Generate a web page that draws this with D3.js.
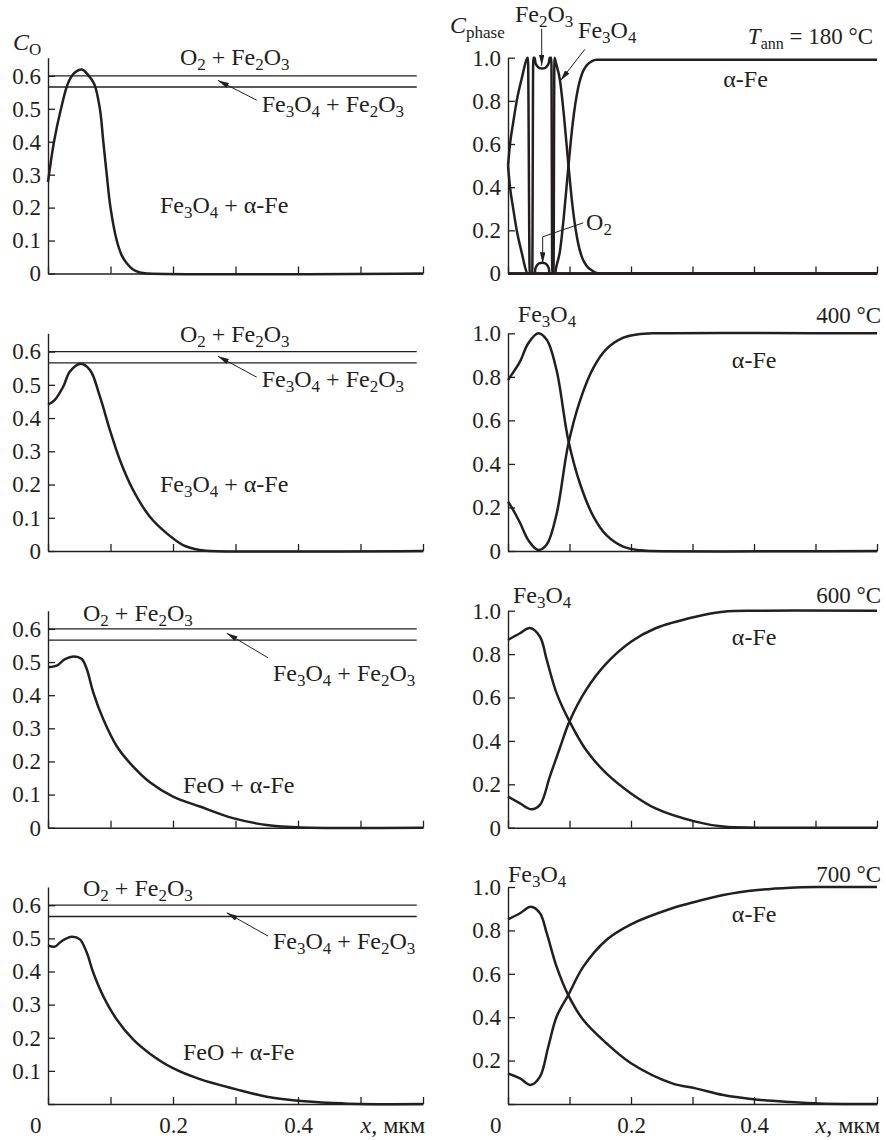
<!DOCTYPE html>
<html>
<head>
<meta charset="utf-8">
<script src="https://cdn.jsdelivr.net/npm/d3@7"></script>
<style>
  body { margin: 0; background: #fff; }
</style>
</head>
<body>
<svg id="chart" width="886" height="1140"></svg>
<script>
// ---- data (x in µm) ----
const xTicks = [0, 0.1, 0.2, 0.3, 0.4, 0.5, 0.6];
const xTickLabels = ["0", "", "0.2", "", "0.4", "", ""];
const coTicks = [0, 0.1, 0.2, 0.3, 0.4, 0.5, 0.6];
const phaseTicks = [0, 0.2, 0.4, 0.6, 0.8, 1.0];
const phaseBounds = [0.6, 0.566];          // O2+Fe2O3 / Fe3O4+Fe2O3 boundaries
const tempLabels = ["*T*_{ann} = 180 °C", "400 °C", "600 °C", "700 °C"];

// oxygen concentration C_O(x)
const co180 = [[0,0.278],[0.0096,0.4],[0.0208,0.5],[0.0325,0.58],[0.043,0.61],[0.054,0.619],[0.064,0.603],[0.074,0.575],[0.083,0.5],[0.0885,0.4],[0.094,0.3],[0.1,0.2],[0.11,0.1],[0.118,0.055],[0.126,0.031],[0.136,0.012],[0.147,0.003],[0.16,0],[0.6,0]];
const co400 = [[0,0.44],[0.011,0.455],[0.0245,0.495],[0.035,0.54],[0.051,0.563],[0.067,0.545],[0.083,0.465],[0.099,0.364],[0.115,0.274],[0.136,0.184],[0.163,0.103],[0.19,0.053],[0.216,0.018],[0.243,0.003],[0.26,0],[0.6,0]];
const co600 = [[0,0.484],[0.0139,0.489],[0.0272,0.509],[0.041,0.517],[0.054,0.509],[0.062,0.479],[0.0725,0.408],[0.0885,0.327],[0.11,0.246],[0.136,0.185],[0.163,0.137],[0.2,0.094],[0.243,0.064],[0.296,0.029],[0.35,0.008],[0.39,0.002],[0.42,0],[0.6,0]];
const co700 = [[0,0.479],[0.011,0.475],[0.022,0.492],[0.038,0.505],[0.051,0.497],[0.062,0.457],[0.0725,0.396],[0.0885,0.325],[0.11,0.255],[0.1365,0.194],[0.163,0.152],[0.2,0.108],[0.243,0.075],[0.3,0.045],[0.35,0.022],[0.4,0.01],[0.457,0.003],[0.5,0],[0.6,0]];

// phase fractions C_phase(x)
const fe3o4_180 = [[0,0.5],[0.0033,0.6],[0.0085,0.7],[0.0142,0.8],[0.022,0.9],[0.0325,1.0],[0.0353,0],[0.074,0],[0.0755,1.0],[0.0785,0.97],[0.0846,0.894],[0.091,0.73],[0.098,0.51],[0.105,0.31],[0.1144,0.135],[0.121,0.07],[0.128,0.035],[0.136,0.015],[0.144,0.003],[0.155,0],[0.6,0]];
const afe_180 = [[0,0.5],[0.0033,0.4],[0.0085,0.3],[0.0142,0.2],[0.022,0.1],[0.0325,0],[0.0764,0],[0.0785,0.03],[0.0846,0.106],[0.091,0.27],[0.098,0.49],[0.105,0.69],[0.1144,0.865],[0.121,0.93],[0.128,0.965],[0.136,0.983],[0.144,0.99],[0.6,0.99]];
const fe2o3_180 = [[0,0],[0.0395,0],[0.041,1.0],[0.0433,1.0],[0.0445,0.978],[0.047,0.963],[0.0505,0.953],[0.0555,0.95],[0.0605,0.953],[0.064,0.963],[0.0665,0.978],[0.0677,1.0],[0.0705,1.0],[0.072,0],[0.6,0]];
const o2_180 = [[0,0],[0.0433,0],[0.0445,0.022],[0.047,0.037],[0.0505,0.047],[0.0555,0.05],[0.0605,0.047],[0.064,0.037],[0.0665,0.022],[0.0677,0],[0.6,0]];
const fe3o4_400 = [[0,0.786],[0.006,0.81],[0.0195,0.87],[0.033,0.954],[0.049,1.0],[0.063,0.97],[0.079,0.83],[0.098,0.51],[0.117,0.31],[0.139,0.158],[0.16,0.073],[0.1875,0.02],[0.215,0.003],[0.235,0],[0.6,0]];
const afe_400 = [[0,0.226],[0.006,0.2],[0.0195,0.13],[0.033,0.05],[0.049,0.005],[0.063,0.03],[0.079,0.17],[0.098,0.49],[0.117,0.69],[0.139,0.842],[0.16,0.927],[0.1875,0.98],[0.215,0.997],[0.235,1],[0.6,1]];
const fe3o4_600 = [[0,0.865],[0.0195,0.896],[0.0358,0.92],[0.052,0.88],[0.063,0.773],[0.079,0.62],[0.1,0.49],[0.127,0.358],[0.16,0.25],[0.2,0.158],[0.24,0.089],[0.305,0.028],[0.35,0.005],[0.406,0],[0.6,0]];
const afe_600 = [[0,0.143],[0.0195,0.112],[0.038,0.085],[0.052,0.105],[0.068,0.235],[0.085,0.373],[0.1,0.49],[0.127,0.635],[0.16,0.757],[0.2,0.857],[0.24,0.919],[0.305,0.972],[0.35,0.995],[0.406,1],[0.6,1]];
const fe3o4_700 = [[0,0.851],[0.0195,0.879],[0.037,0.909],[0.052,0.879],[0.063,0.787],[0.079,0.633],[0.098,0.502],[0.1225,0.387],[0.16,0.28],[0.2,0.188],[0.267,0.095],[0.305,0.072],[0.35,0.041],[0.406,0.02],[0.459,0.009],[0.507,0.002],[0.55,0],[0.6,0]];
const afe_700 = [[0,0.141],[0.0195,0.118],[0.037,0.088],[0.052,0.126],[0.0655,0.264],[0.079,0.402],[0.098,0.502],[0.1225,0.633],[0.16,0.756],[0.2,0.828],[0.267,0.902],[0.305,0.932],[0.35,0.963],[0.406,0.986],[0.459,0.997],[0.507,1],[0.6,1]];

const coCurves = [co180, co400, co600, co700];
const phaseCurves = [[fe3o4_180, afe_180, fe2o3_180, o2_180], [fe3o4_400, afe_400], [fe3o4_600, afe_600], [fe3o4_700, afe_700]];

// annotations, in data units of each panel
const leftNotes = [
  { texts: [["O_2 + Fe_2O_3", 0.211, 0.632], ["Fe_3O_4 + Fe_2O_3", 0.342, 0.489], ["Fe_3O_4 + α-Fe", 0.179, 0.183]], arrows: [[[0.334,0.526],[0.272,0.586]]] },
  { texts: [["O_2 + Fe_2O_3", 0.211, 0.630], ["Fe_3O_4 + Fe_2O_3", 0.342, 0.494], ["Fe_3O_4 + α-Fe", 0.179, 0.179]], arrows: [[[0.334,0.523],[0.272,0.586]]] },
  { texts: [["O_2 + Fe_2O_3", 0.056, 0.623], ["Fe_3O_4 + Fe_2O_3", 0.36, 0.442], ["FeO + α-Fe", 0.216, 0.105]], arrows: [[[0.352,0.513],[0.286,0.587]]] },
  { texts: [["O_2 + Fe_2O_3", 0.056, 0.627], ["Fe_3O_4 + Fe_2O_3", 0.36, 0.467], ["FeO + α-Fe", 0.216, 0.133]], arrows: [[[0.352,0.507],[0.286,0.577]]] }
];
const rightNotes = [
  { texts: [["Fe_2O_3", 0.0114, 1.166], ["Fe_3O_4", 0.114, 1.092], ["α-Fe", 0.35, 0.866], ["O_2", 0.127, 0.201]],
    arrows: [[[0.0548,1.134],[0.0548,0.963]], [[0.125,1.039],[0.0854,0.894]], [[0.1224,0.235],[0.0564,0.17],[0.0564,0.047]]] },
  { texts: [["Fe_3O_4", 0.016, 1.052], ["α-Fe", 0.364, 0.84]], arrows: [] },
  { texts: [["Fe_3O_4", 0.008, 1.035], ["α-Fe", 0.364, 0.842]], arrows: [] },
  { texts: [["Fe_3O_4", 0.0, 1.023], ["α-Fe", 0.364, 0.839]], arrows: [] }
];
const tempPos = [[0.5935, 1.065], [0.6065, 1.047], [0.6065, 1.035], [0.6065, 1.023]];

// ---- layout ----
const rowsY = [[273.5, 57.7], [551, 333.3], [827.7, 610.7], [1104, 887]];
const ink = "#231f20";
const serif = "'Liberation Serif', 'DejaVu Serif', 'Noto Serif', serif";
const tickFs = 23;

const svg = d3.select("#chart").style("font-family", serif);
const defs = svg.append("defs");
defs.append("marker")
  .attr("id", "arr").attr("viewBox", "0 0 10 5").attr("refX", 10).attr("refY", 2.5)
  .attr("markerWidth", 11).attr("markerHeight", 5.5).attr("markerUnits", "userSpaceOnUse")
  .attr("orient", "auto")
  .append("path").attr("d", "M0,0L10,2.5L0,5Z").attr("fill", ink);

const xLeft = d3.scaleLinear().domain([0, 0.6]).range([48, 423]);
const xRight = d3.scaleLinear().domain([0, 0.6]).range([508, 877]);

// text with *italic* and _s / _{sub} subscripts
function richText(g, str, x, y, anchor, size) {
  const fs = size || 24, subFs = Math.round(fs * 0.71), subDy = 5;
  const t = g.append("text").attr("x", x).attr("y", y)
    .attr("text-anchor", anchor || "start")
    .style("font-family", serif).style("font-size", fs + "px").style("fill", ink).style("white-space", "pre");
  const re = /\*([^*]+)\*|_\{([^}]+)\}|_(.)|([^*_]+)/g;
  let m, sub = false;
  while ((m = re.exec(str))) {
    if (m[2] || m[3]) {
      t.append("tspan").style("font-size", subFs + "px").attr("dy", sub ? 0 : subDy).text(m[2] || m[3]);
      sub = true;
    } else {
      const sp = t.append("tspan").attr("dy", sub ? -subDy : 0).text(m[1] || m[4]);
      if (m[1]) sp.style("font-style", "italic");
      sub = false;
    }
  }
  return t;
}

const smooth = d3.curveCatmullRom.alpha(0.5);
const line = (x, y, curve) => d3.line().x(d => x(d[0])).y(d => y(d[1])).curve(curve);
const arrowLine = (x, y) => d3.line().x(d => x(d[0])).y(d => y(d[1]));

function drawAxes(g, x, y, ticks, row) {
  const last = row === 3;
  const xa = g.append("g").attr("transform", `translate(0,${y.range()[0]})`)
    .call(d3.axisBottom(x).tickValues(xTicks).tickSizeInner(-7).tickSizeOuter(0).tickPadding(13)
      .tickFormat((d, i) => last ? xTickLabels[i] : ""));
  // bottom row: the zero is written once, under the corner
  const ya = g.append("g").attr("transform", `translate(${x.range()[0]},0)`)
    .call(d3.axisLeft(y).tickValues(ticks).tickSizeInner(-7).tickSizeOuter(0).tickPadding(7)
      .tickFormat(d => d === 0 ? (last ? "" : "0") : d.toFixed(1)));
  [xa, ya].forEach(a => {
    a.attr("font-family", null).attr("font-size", null);
    a.select(".domain").attr("stroke", ink).attr("stroke-width", 1.4);
    a.selectAll(".tick line").attr("stroke", ink).attr("stroke-width", 1.3);
    a.selectAll(".tick text").attr("fill", ink)
      .style("font-family", serif).style("font-size", tickFs + "px");
  });
  xa.selectAll(".tick text").filter(d => d === 0)
    .attr("text-anchor", "end").attr("x", -7);
  if (last) richText(g, "*x*, мкм", x(0.5), y.range()[0] + 29);
}

function drawNotes(g, x, y, notes) {
  notes.texts.forEach(t => richText(g, t[0], x(t[1]), y(t[2])));
  notes.arrows.forEach(a => {
    g.append("path").attr("d", arrowLine(x, y)(a)).attr("fill", "none")
      .attr("stroke", ink).attr("stroke-width", 1).attr("marker-end", "url(#arr)");
  });
}

rowsY.forEach((ry, row) => {
  // left: oxygen concentration
  const yL = d3.scaleLinear().domain([0, 0.655]).range(ry);
  const gL = svg.append("g");
  drawAxes(gL, xLeft, yL, coTicks, row);
  gL.selectAll(".bound").data(phaseBounds).enter().append("line")
    .attr("x1", xLeft(0)).attr("x2", xLeft(0.59))
    .attr("y1", d => yL(d)).attr("y2", d => yL(d))
    .attr("stroke", ink).attr("stroke-width", 1.3);
  gL.append("path").attr("d", line(xLeft, yL, smooth)(coCurves[row]))
    .attr("fill", "none").attr("stroke", ink).attr("stroke-width", 2.5);
  drawNotes(gL, xLeft, yL, leftNotes[row]);

  // right: phase fractions (sharp phase jumps at 180 °C need a monotone curve)
  const yR = d3.scaleLinear().domain([0, 1]).range(ry);
  const gR = svg.append("g");
  drawAxes(gR, xRight, yR, phaseTicks, row);
  const curve = row === 0 ? d3.curveMonotoneX : smooth;
  gR.selectAll(".phase").data(phaseCurves[row]).enter().append("path")
    .attr("d", d => line(xRight, yR, curve)(d))
    .attr("fill", "none").attr("stroke", ink).attr("stroke-width", 2.5);
  drawNotes(gR, xRight, yR, rightNotes[row]);
  richText(gR, tempLabels[row], xRight(tempPos[row][0]), yR(tempPos[row][1]), "end", 23);

  if (row === 0) {
    richText(gL, "*C*_O", xLeft(0) - 35, ry[1] - 8);
    richText(gR, "*C*_{phase}", xRight(0) - 58, 33);
  }
});
</script>
</body>
</html>
